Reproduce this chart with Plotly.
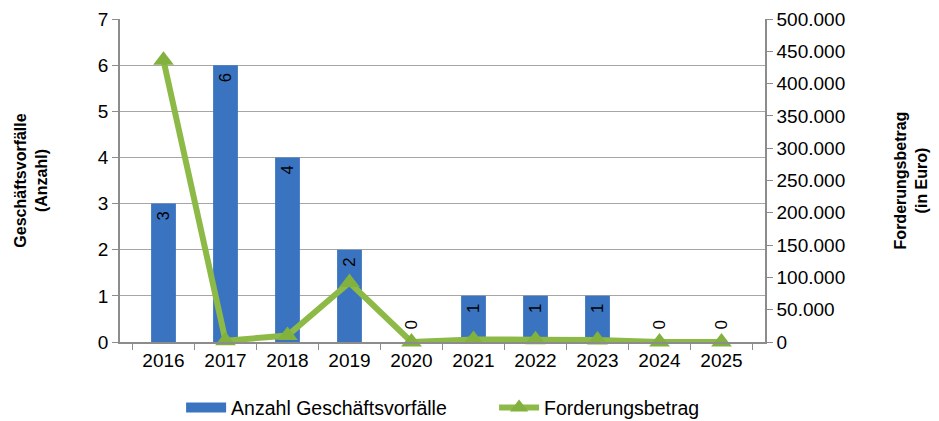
import plotly.graph_objects as go

years = ["2016", "2017", "2018", "2019", "2020", "2021", "2022", "2023", "2024", "2025"]
anzahl = [3, 6, 4, 2, 0, 1, 1, 1, 0, 0]
betrag = [436000, 2000, 10000, 92000, 0, 4000, 3500, 3000, 0, 0]

FONT = "Liberation Sans, Arial, sans-serif"
bar_color = "#3A74C0"
line_color = "#8DBA47"
NBSP = "\u00a0"

# labels read bottom-to-top; non-breaking spaces give the padding seen in the reference
bar_text = [(str(v) + NBSP) if v > 0 else (NBSP * 2 + str(v)) for v in anzahl]

fig = go.Figure()
fig.add_trace(go.Bar(
    x=years, y=anzahl, name="Anzahl Geschäftsvorfälle",
    marker=dict(color=bar_color, line=dict(width=0)),
    text=bar_text,
    textangle=-90,
    textposition=["inside" if v > 0 else "outside" for v in anzahl],
    insidetextanchor="end",
    textfont=dict(family=FONT, size=17, color="#000000"),
    cliponaxis=False,
    showlegend=False,
    yaxis="y",
))
# legend entry for the bars (wide rectangle swatch)
fig.add_trace(go.Scatter(
    x=[None], y=[None], name="Anzahl Geschäftsvorfälle", mode="lines",
    line=dict(color=bar_color, width=10), yaxis="y",
))
fig.add_trace(go.Scatter(
    x=years, y=betrag, name="Forderungsbetrag", mode="lines+markers",
    line=dict(color=line_color, width=6),
    marker=dict(symbol="triangle-up", size=18, color="#82B13D"),
    cliponaxis=False,
    yaxis="y2",
))

# page body has an 8px default margin, so the figure is drawn 8px smaller
fig.update_layout(
    width=931, height=413,
    margin=dict(l=112, r=174, t=11, b=79, autoexpand=False),
    paper_bgcolor="white", plot_bgcolor="white",
    separators=",.",
    bargap=0.6,
    font=dict(family=FONT, size=19, color="#000000"),
    showlegend=True,
    legend=dict(orientation="h", x=0.58, xanchor="center", y=-0.204, yanchor="middle",
                font=dict(size=19.5), entrywidth=258, entrywidthmode="pixels", itemwidth=40),
    xaxis=dict(type="category", showline=True, linecolor="#8C8C8C", linewidth=1.5,
               ticks="outside", ticklen=6, tickcolor="#8C8C8C", tickson="boundaries",
               showgrid=False, tickfont=dict(size=19)),
    yaxis=dict(range=[0, 7], dtick=1, showline=True, linecolor="#8C8C8C", linewidth=1.5,
               ticks="outside", ticklen=6, tickcolor="#8C8C8C",
               showgrid=True, gridcolor="#A6A6A6", gridwidth=1, zeroline=False,
               tickfont=dict(size=19),
               title=dict(text="<b>Geschäftsvorfälle<br>(Anzahl)</b>", font=dict(size=16), standoff=46)),
    yaxis2=dict(range=[0, 500000], dtick=50000, overlaying="y", side="right",
                showline=True, linecolor="#8C8C8C", linewidth=1.5,
                ticks="outside", ticklen=6, tickcolor="#8C8C8C", tickformat=",d",
                showgrid=False, zeroline=False, tickfont=dict(size=19),
                title=dict(text="<b>Forderungsbetrag<br>(in Euro)</b>", font=dict(size=16), standoff=51)),
)

fig.write_html("out.html")
